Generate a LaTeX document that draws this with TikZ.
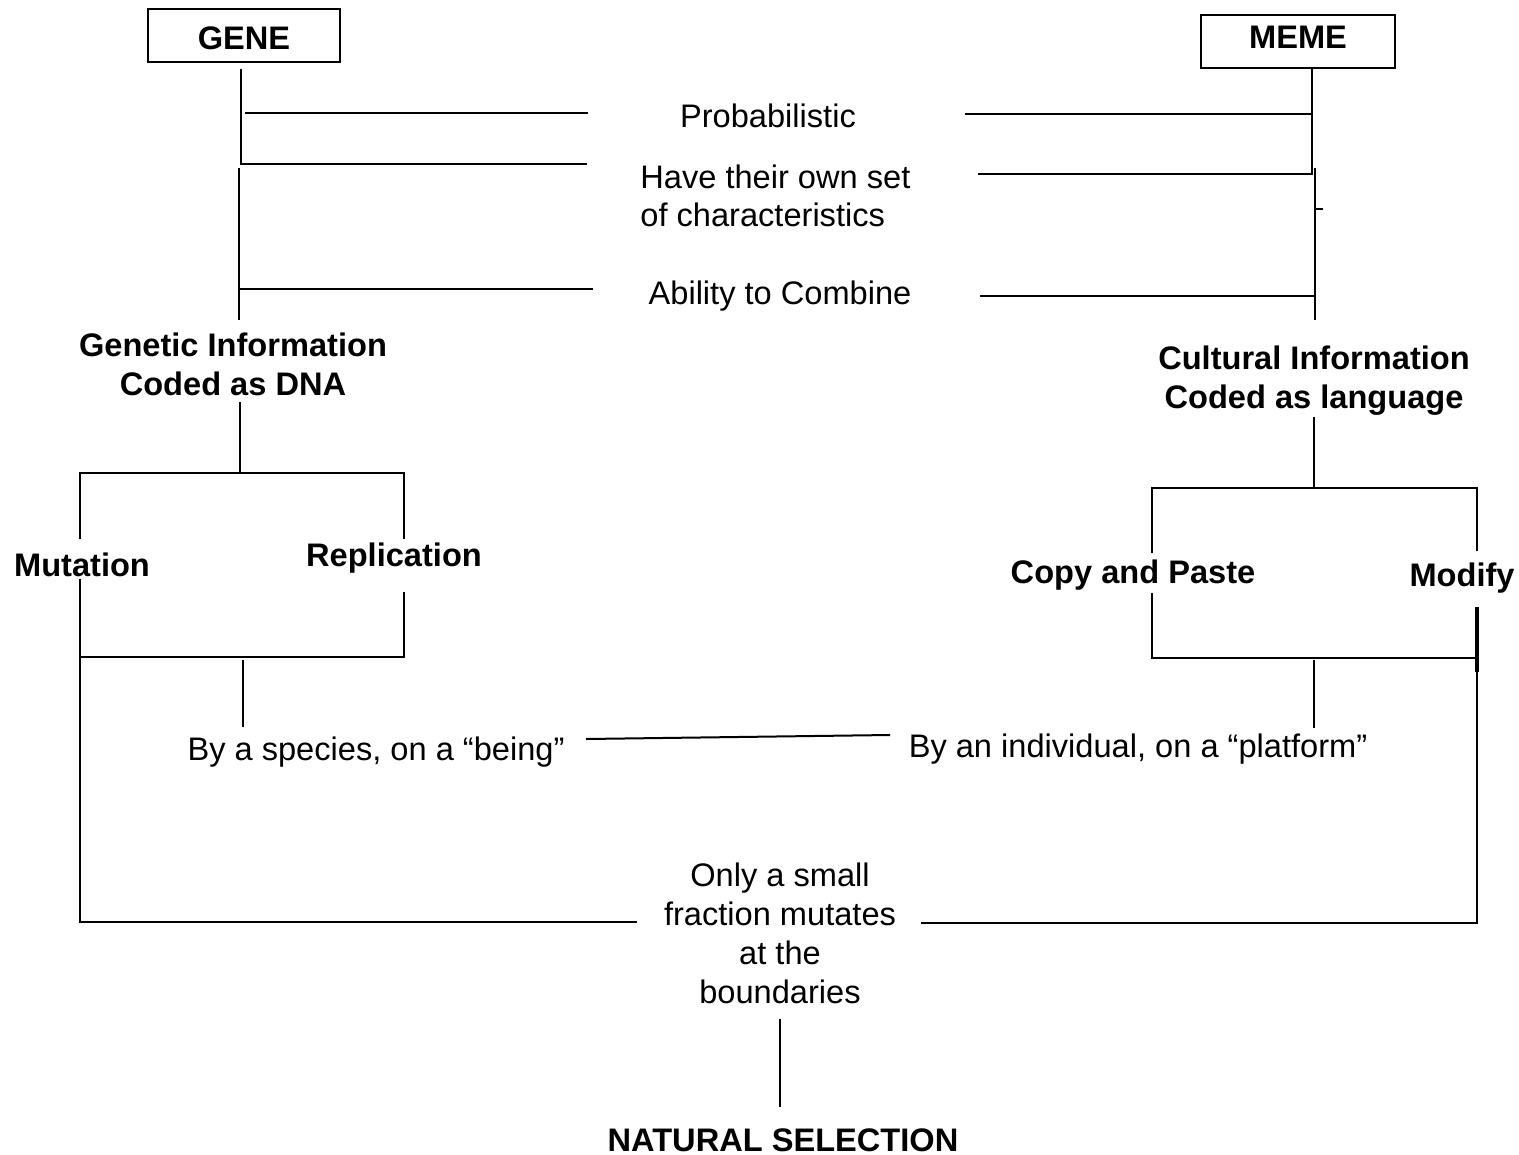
\documentclass[tikz,border=0pt]{standalone}
\usepackage{fontspec}
\setmainfont{Liberation Sans}
\begin{document}
\begin{tikzpicture}[x=0.5pt,y=-0.5pt,
  lbl/.style={inner sep=0pt,anchor=base,font=\fontsize{16.3}{19.4}\selectfont,align=center},
  bld/.style={lbl,font=\fontsize{16.3}{19.4}\selectfont\bfseries},
  boxed/.style={draw,line width=1pt,inner sep=0pt,minimum width=96pt,minimum height=26.5pt,font=\fontsize{16.3}{19.4}\selectfont\bfseries},
  conn/.style={line width=1pt,line cap=butt}]
\useasboundingbox (0,0) rectangle (1519,1155);
% boxes
\node[boxed,text height=20.5pt,text depth=6pt] (gene) at (244,35.5) {GENE};
\node[boxed,minimum width=97pt,text height=17pt,text depth=9.5pt] (meme) at (1298,41.5) {MEME};
% texts
\node[lbl] (prob) at (768,128) {Probabilistic};
\node[lbl,align=left,anchor=base west] (own) at (640,227) {Have their own set\\of characteristics};
\node[lbl] (comb) at (780,304) {Ability to Combine};
\node[bld] (gen) at (233,395) {Genetic Information\\Coded as DNA};
\node[bld] (cul) at (1314,408) {Cultural Information\\Coded as language};
\node[bld] (mut) at (82,576) {Mutation};
\node[bld] (rep) at (394,566) {Replication};
\node[bld] (cop) at (1133,583) {Copy and Paste};
\node[bld] (mod) at (1462,586) {Modify};
\node[lbl] (spe) at (376,760) {By a species, on a “being”};
\node[lbl] (ind) at (1138,757) {By an individual, on a “platform”};
\node[lbl] (frac) at (780,1003) {Only a small\\fraction mutates\\at the\\boundaries};
\node[bld] (nat) at (783,1151) {NATURAL SELECTION};
% coordinates: upper left
\coordinate (g0) at (241,69);
\coordinate (g1) at (241,164);
\coordinate (g1e) at (587,164);
\coordinate (p0) at (245,113);
\coordinate (p1) at (588,113);
\coordinate (g2) at (239,168);
\coordinate (g3) at (239,320);
\coordinate (c0) at (239,289);
\coordinate (c1) at (593,289);
% upper right
\coordinate (m0) at (1312,68);
\coordinate (m1) at (1312,174);
\coordinate (m1e) at (978,174);
\coordinate (q0) at (965,114);
\coordinate (q1) at (1312,114);
\coordinate (m2) at (1315,168);
\coordinate (m3) at (1315,320);
\coordinate (t0) at (1315,209);
\coordinate (t1) at (1323,209);
\coordinate (d0) at (980,296);
\coordinate (d1) at (1315,296);
% lower left
\coordinate (ls0) at (240,402);
\coordinate (ls1) at (240,472);
\coordinate (lb0) at (80,473);
\coordinate (lb1) at (404,473);
\coordinate (lm0) at (80,539);
\coordinate (lm1) at (80,579);
\coordinate (lr0) at (404,539);
\coordinate (lr1) at (404,592);
\coordinate (lb2) at (80,657);
\coordinate (lb3) at (404,657);
\coordinate (lsd0) at (243,660);
\coordinate (lsd1) at (243,727);
\coordinate (bl0) at (80,922);
\coordinate (bl1) at (637,922);
% lower right
\coordinate (rs0) at (1314,417);
\coordinate (rs1) at (1314,487);
\coordinate (rb0) at (1152,488);
\coordinate (rb1) at (1477,488);
\coordinate (rc0) at (1152,553);
\coordinate (rc1) at (1152,593);
\coordinate (rm0) at (1477,551);
\coordinate (rm1) at (1477,607);
\coordinate (rb2) at (1152,658);
\coordinate (rb3) at (1477,658);
\coordinate (rsd0) at (1314,660);
\coordinate (rsd1) at (1314,728);
\coordinate (br0) at (921,923);
\coordinate (br1) at (1477,923);
\coordinate (rth) at (1477,672);
% middle
\coordinate (mid0) at (586,739);
\coordinate (mid1) at (890,735);
\coordinate (n0) at (780,1019);
\coordinate (n1) at (780,1107);
% lines
\draw[conn] (g0) -- (g1) -- (g1e);
\draw[conn] (p0) -- (p1);
\draw[conn] (g2) -- (g3);
\draw[conn] (c0) -- (c1);
\draw[conn] (m0) -- (m1) -- (m1e);
\draw[conn] (q0) -- (q1);
\draw[conn] (m2) -- (m3);
\draw[conn] (t0) -- (t1);
\draw[conn] (d0) -- (d1);
\draw[conn] (ls0) -- (ls1);
\draw[conn] (lm0) -- (lb0) -- (lb1) -- (lr0);
\draw[conn] (lr1) -- (lb3) -- (lb2);
\draw[conn] (lm1) -- (bl0) -- (bl1);
\draw[conn] (lsd0) -- (lsd1);
\draw[conn] (rs0) -- (rs1);
\draw[conn] (rc0) -- (rb0) -- (rb1) -- (rm0);
\draw[conn] (rc1) -- (rb2) -- (rb3);
\draw[conn] (rm1) -- (br1) -- (br0);
\draw[line width=2pt] (rm1) -- (rth);
\draw[conn] (rsd0) -- (rsd1);
\draw[conn] (mid0) -- (mid1);
\draw[conn] (n0) -- (n1);
\end{tikzpicture}
\end{document}
